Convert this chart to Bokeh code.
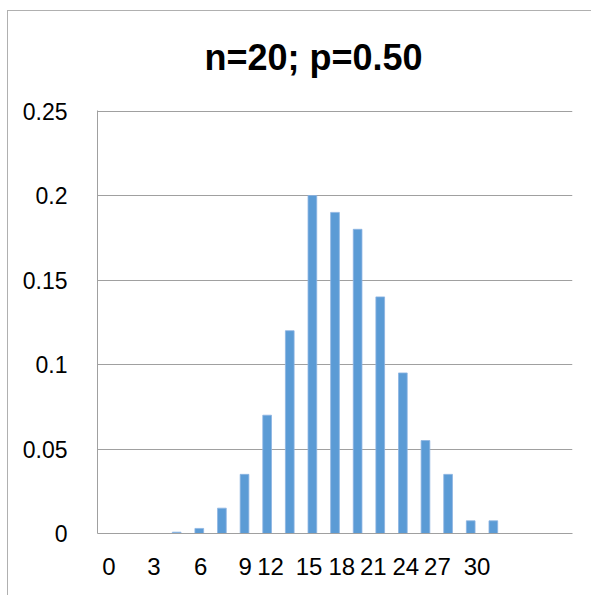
from bokeh.plotting import figure
from bokeh.models import Range1d, FixedTicker
from bokeh.embed import file_html
from bokeh.resources import INLINE

# Data
k_values = list(range(21))
probabilities = [0, 0, 0, 0.0008, 0.003, 0.015, 0.035, 0.07, 0.12, 0.2, 0.19,
                 0.18, 0.14, 0.095, 0.055, 0.035, 0.0075, 0.0075, 0, 0, 0]
x_tick_positions = [0, 1.99, 4.06, 6.03, 7.15, 8.85, 10.3, 11.69, 13.13, 14.53, 16.28]
x_tick_labels = ["0", "3", "6", "9", "12", "15", "18", "21", "24", "27", "30"]
y_ticks = [0, 0.05, 0.1, 0.15, 0.2, 0.25]
y_tick_labels = ["0", "0.05", "0.1", "0.15", "0.2", "0.25"]
title_text = "n=20; p=0.50"

FONT = "Liberation Sans"
GRID = "#a0a0a0"
FRAME_LINE = "#b0b0b0"

p = figure(width=591, height=595, output_backend="svg", toolbar_location=None,
           x_range=Range1d(-0.5, 20.5), y_range=Range1d(0, 0.2503),
           min_border_left=97, min_border_right=19, min_border_top=110, min_border_bottom=62)

p.styles = {
    "background": (f"linear-gradient({FRAME_LINE},{FRAME_LINE}) 7px 10px / 1px 600px no-repeat, "
                   f"linear-gradient({FRAME_LINE},{FRAME_LINE}) 7px 10px / 600px 1px no-repeat, white"),
}

p.title.text = title_text
p.title.text_font = FONT
p.title.text_font_size = "36px"
p.title.text_font_style = "bold"
p.title.text_color = "black"
p.title.align = "left"
p.title.offset = 107
p.title.vertical_align = "middle"
p.title.standoff = 64

p.vbar(x=k_values, top=probabilities, width=0.385, bottom=0,
       fill_color="#5B9BD5", line_color="#8db4e2", line_width=0.8)

p.outline_line_color = None
p.background_fill_color = "white"
p.border_fill_color = None

p.xgrid.grid_line_color = None
p.ygrid.grid_line_color = GRID
p.ygrid.grid_line_width = 1
p.yaxis.ticker = FixedTicker(ticks=y_ticks)
p.ygrid.ticker = FixedTicker(ticks=y_ticks)
p.yaxis.major_label_overrides = {t: l for t, l in zip(y_ticks, y_tick_labels)}

p.xaxis.ticker = FixedTicker(ticks=x_tick_positions)
p.xaxis.major_label_overrides = {t: l for t, l in zip(x_tick_positions, x_tick_labels)}

for ax in (p.xaxis, p.yaxis):
    ax.axis_line_color = GRID
    ax.axis_line_width = 1
    ax.major_tick_line_color = None
    ax.minor_tick_line_color = None
    ax.major_label_text_font = FONT
    ax.major_label_text_color = "black"

p.xaxis.major_label_text_font_size = "24px"
p.yaxis.major_label_text_font_size = "23px"
p.xaxis.major_label_standoff = 18
p.yaxis.major_label_standoff = 24

open("out.html", "w").write(file_html(p, INLINE))
